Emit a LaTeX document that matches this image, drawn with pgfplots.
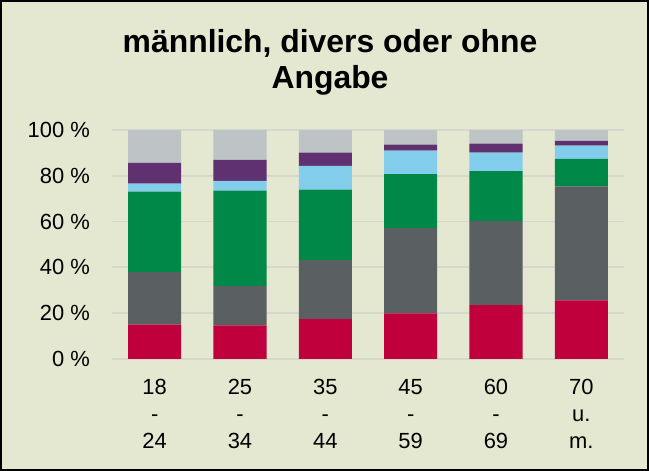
\documentclass[border=0pt]{standalone}
\usepackage{fontspec}
\setmainfont{Liberation Sans}
\usepackage{pgfplots}
\pgfplotsset{compat=1.18}
\definecolor{bg}{HTML}{E4E8D0}
\definecolor{cred}{HTML}{C0003C}
\definecolor{cdgray}{HTML}{5A6062}
\definecolor{cgreen}{HTML}{008848}
\definecolor{cblue}{HTML}{82CDEB}
\definecolor{cpurple}{HTML}{5F3170}
\definecolor{clgray}{HTML}{BEC3C5}
\definecolor{cgrid}{HTML}{D6D8CE}
\begin{document}
\begin{tikzpicture}
\useasboundingbox (0,0) rectangle (649bp,471bp);
\fill[bg] (0,0) rectangle (649bp,471bp);
\draw[black,line width=2bp] (1bp,1bp) rectangle (648bp,470bp);
\node[font=\bfseries\fontsize{32}{36}\selectfont, anchor=base] at (330bp,418bp) {männlich, divers oder ohne};
\node[font=\bfseries\fontsize{32}{36}\selectfont, anchor=base] at (330bp,382bp) {Angabe};
\begin{axis}[
  at={(112bp,112bp)}, anchor=south west,
  width=512bp, height=229bp, scale only axis,
  xmin=-0.5, xmax=5.5, ymin=0, ymax=100,
  ybar stacked, bar width=53bp,
  axis line style={draw=none}, tick style={draw=none},
  ymajorgrids, grid style={draw=cgrid, line width=1.8bp},
  xtick={0,1,2,3,4,5},
  xticklabels={{18\\-\\24},{25\\-\\34},{35\\-\\44},{45\\-\\59},{60\\-\\69},{70\\u.\\m.}},
  xticklabel style={align=center, font=\fontsize{22}{27}\selectfont, inner sep=0pt, anchor=north, yshift=-20bp},
  ytick={0,20,40,60,80,100},
  yticklabels={0 \%,20 \%,40 \%,60 \%,80 \%,100 \%},
  yticklabel style={font=\fontsize{22}{27}\selectfont, inner sep=0pt, anchor=east, xshift=-22bp},
  every axis plot/.append style={draw=none},
]
\addplot[fill=cred] coordinates {(0,15.0) (1,14.7) (2,17.4) (3,19.9) (4,23.5) (5,25.6)};
\addplot[fill=cdgray] coordinates {(0,22.9) (1,17.1) (2,25.8) (3,37.2) (4,36.8) (5,49.8)};
\addplot[fill=cgreen] coordinates {(0,35.2) (1,41.7) (2,30.8) (3,23.6) (4,21.7) (5,12.0)};
\addplot[fill=cblue] coordinates {(0,3.5) (1,4.3) (2,10.3) (3,10.3) (4,8.1) (5,5.8)};
\addplot[fill=cpurple] coordinates {(0,9.0) (1,9.1) (2,5.8) (3,2.6) (4,3.9) (5,2.1)};
\addplot[fill=clgray] coordinates {(0,14.4) (1,13.1) (2,9.9) (3,6.4) (4,6.0) (5,4.7)};
\end{axis}
\end{tikzpicture}
\end{document}
